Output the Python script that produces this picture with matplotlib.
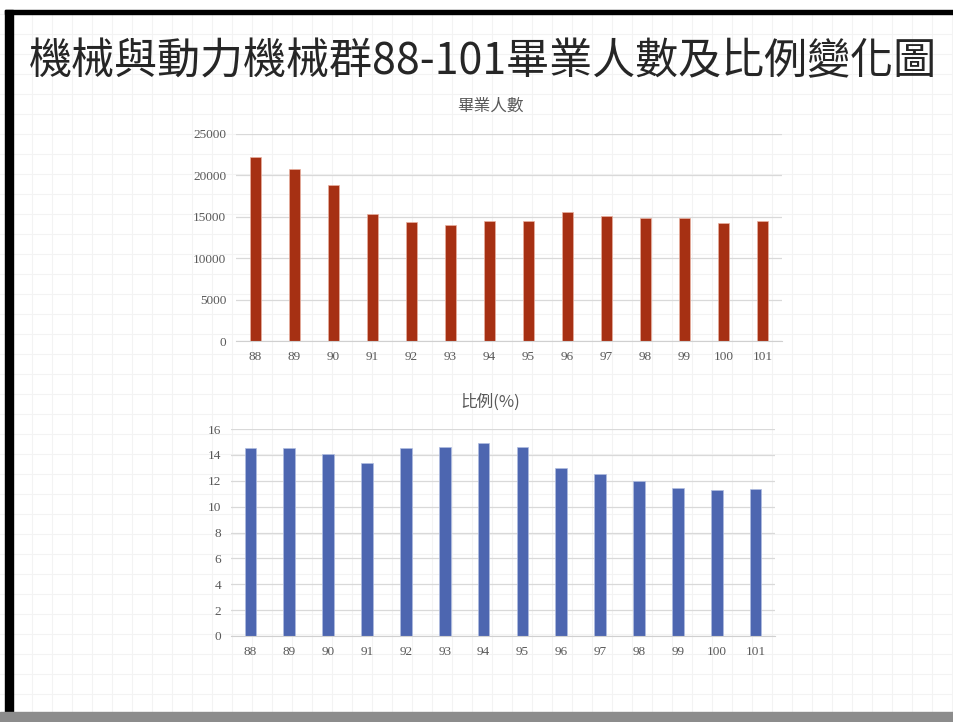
import numpy as np
import matplotlib.pyplot as plt
from matplotlib.patches import Rectangle

plt.rcParams['font.family'] = ['Noto Sans CJK TC', 'DejaVu Sans']

years = ['88', '89', '90', '91', '92', '93', '94', '95', '96', '97', '98', '99', '100', '101']
graduates = [22200, 20800, 18850, 15300, 14350, 14050, 14500, 14450, 15600, 15100, 14800, 14800, 14300, 14450]
ratio = [14.55, 14.5, 14.05, 13.4, 14.5, 14.6, 14.9, 14.6, 13.0, 12.5, 11.95, 11.45, 11.3, 11.35]

title = '機械與動力機械群88-101畢業人數及比例變化圖'
title_top = '畢業人數'
title_bottom = '比例(%)'

W, H = 954, 722
fig = plt.figure(figsize=(W / 100, H / 100), dpi=100)
fig.patch.set_facecolor('white')

# slide background: faint grid paper
bg = fig.add_axes([0, 0, 1, 1], zorder=-10)
bg.set_xlim(0, W)
bg.set_ylim(H, 0)
bg.axis('off')
for gx in np.arange(12, W, 20):
    bg.axvline(gx, color='#f3f3f3', lw=0.8, zorder=1)
for gy in np.arange(14, H, 20):
    bg.axhline(gy, color='#f3f3f3', lw=0.8, zorder=1)
# frame
bg.add_patch(Rectangle((0, 0), W, 10, color='white', zorder=5))
bg.add_patch(Rectangle((5, 10), 8, 706, color='black', zorder=5))
bg.add_patch(Rectangle((5, 10), W, 4, color='black', zorder=5))
bg.add_patch(Rectangle((0, 712), W, 10, color='#8c8c8c', zorder=5))

fig.text(483 / W, 1 - 62 / H, title, ha='center', va='center', fontsize=31,
         fontweight='light', color='#262626')


def axes_px(x0, y0, x1, y1):
    return fig.add_axes([x0 / W, 1 - y1 / H, (x1 - x0) / W, (y1 - y0) / H])


def style(ax, yticks):
    x = np.arange(len(years))
    ax.set_xlim(-0.5, len(years) - 0.5)
    ax.set_xticks(x)
    ax.set_xticklabels(years)
    ax.set_yticks(yticks)
    ax.set_ylim(yticks[0], yticks[-1])
    ax.grid(axis='y', color='#d9d9d9', lw=0.9)
    ax.set_axisbelow(True)
    for s in ['top', 'right', 'left']:
        ax.spines[s].set_visible(False)
    ax.spines['bottom'].set_color('#d0d0d0')
    ax.tick_params(length=0, labelsize=9.5, colors='#595959', pad=7)
    for lbl in ax.get_xticklabels() + ax.get_yticklabels():
        lbl.set_fontfamily('Liberation Serif')
    ax.patch.set_alpha(0)


ax1 = axes_px(236, 134, 782, 341)
ax1.bar(np.arange(len(years)), graduates, width=0.3, color='#A63013', edgecolor='#e8b0a0', lw=0.5)
style(ax1, [0, 5000, 10000, 15000, 20000, 25000])
fig.text(490 / W, 1 - 106 / H, title_top, ha='center', va='center', fontsize=12,
         fontweight='light', color='#595959')

ax2 = axes_px(231, 429, 775, 636)
ax2.bar(np.arange(len(years)), ratio, width=0.3, color='#4D66B0', edgecolor='#b0bde0', lw=0.5)
style(ax2, [0, 2, 4, 6, 8, 10, 12, 14, 16])
fig.text(490 / W, 1 - 402 / H, title_bottom, ha='center', va='center', fontsize=12,
         fontweight='light', color='#595959')

fig.savefig('out.png', dpi=100)
